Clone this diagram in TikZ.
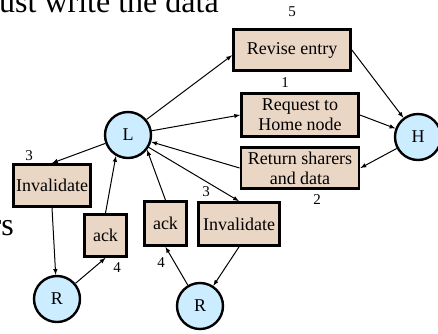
\documentclass[tikz,border=0pt]{standalone}
\usepackage{fontspec}
\setmainfont{Liberation Serif}
\definecolor{boxfill}{RGB}{234,214,196}
\definecolor{nodefill}{RGB}{204,236,255}
\tikzset{
  >=latex,
  msg box/.style={draw=black,line width=2.8pt,fill=boxfill,align=center,
    inner sep=1pt,font=\fontsize{18}{20}\selectfont},
  proc node/.style={circle,draw=black,line width=2.4pt,fill=nodefill,
    minimum size=46pt,inner sep=0pt,font=\fontsize{18}{20}\selectfont},
  step num/.style={inner sep=0pt,font=\fontsize{15}{15}\selectfont},
  link/.style={->,line width=1pt}
}
\begin{document}
\begin{tikzpicture}[x=1pt,y=-1pt]
	\useasboundingbox (0,0) rectangle (438,333);

	%% cut-off slide text
	\node[anchor=base west,inner sep=0pt,font=\fontsize{32}{32}\selectfont] (head) at (-1,12) {ust write the data};
	\node[anchor=base east,inner sep=0pt,font=\fontsize{32}{32}\selectfont] (side) at (14,235) {rs};

	%% processors
	\node[proc node] (L) at (128,135) {L};
	\node[proc node] (H) at (418,137) {H};
	\node[proc node] (RL) at (57,299) {R};
	\node[proc node] (RR) at (200,306) {R};

	%% messages
	\node[msg box,minimum width=117pt,minimum height=41pt] (rev) at (292,50) {Revise entry};
	\node[msg box,minimum width=117pt,minimum height=43pt] (req) at (300,115) {Request to\\Home node};
	\node[msg box,minimum width=118pt,minimum height=41pt] (ret) at (300,168) {Return sharers\\and data};
	\node[msg box,minimum width=77pt,minimum height=42pt] (invL) at (52,185.5) {Invalidate};
	\node[msg box,minimum width=81pt,minimum height=43pt] (invR) at (239,224) {Invalidate};
	\node[msg box,minimum width=42pt,minimum height=42pt] (ackL) at (105.5,235.5) {ack};
	\node[msg box,minimum width=42pt,minimum height=44pt] (ackM) at (165.5,223.5) {ack};

	%% step numbers
	\node[step num] (n5) at (292,12) {5};
	\node[step num] (n1) at (285,83) {1};
	\node[step num] (n2) at (317,200) {2};
	\node[step num] (n3L) at (29,156) {3};
	\node[step num] (n3R) at (206,192) {3};
	\node[step num] (n4L) at (117,268) {4};
	\node[step num] (n4M) at (161,263) {4};

	%% connectors
	\draw[link] (L.40) -- (rev.185);
	\draw[link] (L) -- (req.west);
	\draw[link] (req.east) -- (H);
	\draw[link] (rev.east) -- (H);
	\draw[link] (H) -- (ret.east);
	\draw[link] (ret.west) -- (L);
	\draw[link] (L) -- (invR.north);
	\draw[link] (L) -- (invL.north);
	\draw[link] (invL.south) -- (RL);
	\draw[link] (RL) -- (ackL.south);
	\draw[link] (ackL.north) -- (L.240);
	\draw[link] (ackM.north) -- (L.-38);
	\draw[link] (RR) -- (ackM.south);
	\draw[link] (invR.south) -- (RR);
\end{tikzpicture}
\end{document}
